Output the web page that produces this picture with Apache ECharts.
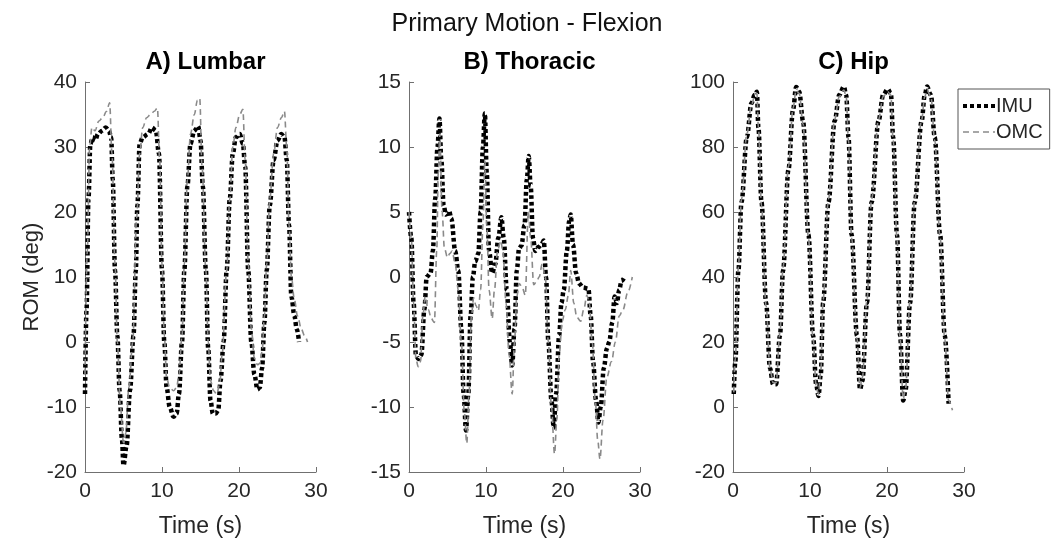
<!DOCTYPE html>
<html>
<head>
<meta charset="utf-8">
<script src="https://cdn.jsdelivr.net/npm/echarts@6/dist/echarts.min.js"></script>
<style>
html,body{margin:0;padding:0;background:#fff;}
#chart{width:1054px;height:543px;}
</style>
</head>
<body>
<div id="chart"></div>
<script>
// ---------- DATA (time in s, ROM in deg) ----------
const panelTitles = ['A) Lumbar', 'B) Thoracic', 'C) Hip'];
const mainTitle = 'Primary Motion - Flexion';
const seriesNames = ['IMU', 'OMC'];
const xTicks = {min: 0, max: 30, interval: 10};
const yRanges = [
  {min: -20, max: 40, interval: 10},
  {min: -15, max: 15, interval: 5},
  {min: -20, max: 100, interval: 20}
];

const lumbarIMU = [
  [0,-8],[0.2,5],[0.45,22],[0.7,30.5],[1.0,31.5],[1.3,31],[1.7,32],[2.2,32.5],[2.7,33],[3.1,32.5],[3.4,31.5],
  [3.6,25],[3.9,11],[4.2,1],[4.5,-7.5],[4.8,-15],[5.0,-19],[5.4,-16],[5.85,-7.4],[6.3,1],[6.6,11],[6.8,21],
  [7.1,30.5],[7.5,31.5],[8.2,32],[8.7,33],[9.2,32.5],[9.6,29],[10.0,11],[10.3,0],[10.6,-7],[11.0,-10],
  [11.5,-11.5],[11.9,-11],[12.2,-8],[12.6,0],[12.9,11],[13.3,24],[13.7,30.5],[14.2,32.5],[14.7,33.2],
  [15.0,31],[15.3,24],[15.7,11],[16.0,-1],[16.3,-9],[16.6,-11],[17.0,-11],[17.3,-10.5],[17.6,-6],
  [18.0,0],[18.4,11],[18.8,22],[19.2,29],[19.6,31.5],[20.1,32],[20.5,30.5],[20.8,27],[21.2,11],[21.6,0],
  [22.0,-5],[22.4,-7.3],[22.7,-7],[23.0,-4],[23.3,3],[23.6,11],[24.0,21],[24.5,28],[25.0,31],[25.5,32],
  [25.9,31.5],[26.2,28],[26.5,18],[26.8,7],[27.2,4],[27.5,2],[27.8,0]
];
const lumbarOMC = [
  [0,-5],[0.3,14],[0.6,30],[0.9,33],[1.3,32.5],[1.8,34],[2.3,34.5],[2.8,35.5],[3.2,36.8],[3.5,29],
  [3.9,12],[4.2,0],[4.6,-10],[5.0,-15.5],[5.3,-14],[5.7,-7],[6.2,0],[6.7,19],[7.1,29],[7.5,33],[8.0,34.5],
  [8.5,35],[9.0,35.5],[9.4,36],[9.7,28],[10.0,12],[10.3,1],[10.6,-5.5],[11.0,-7],[11.5,-7.5],[11.9,-7],
  [12.2,-5],[12.6,1],[12.9,12],[13.3,25],[13.7,32],[14.2,35],[14.6,37.2],[14.9,37.5],[15.2,27],[15.7,11],
  [16.0,0],[16.3,-6],[16.7,-7.5],[17.1,-8],[17.5,-6.5],[17.8,-2],[18.4,11],[18.8,22],[19.2,30],[19.6,33],
  [20.1,35],[20.5,35.8],[20.8,28],[21.2,12],[21.6,2],[22.0,-2.5],[22.4,-3.5],[22.7,-3.3],[23.0,-1.5],
  [23.3,4],[23.6,12],[24.0,22],[24.5,29],[25.0,33],[25.5,34.5],[25.9,35.5],[26.2,30],[26.5,18],[26.8,10],
  [27.2,6.5],[27.6,4],[28.1,2],[28.5,1],[28.9,0]
];
const thoracicIMU = [
  [0,5],[0.3,3],[0.6,-2],[0.9,-6],[1.2,-6.3],[1.6,-6],[2.0,-2.5],[2.3,0],[2.8,0.3],[3.1,2],[3.4,6],[3.7,10],
  [3.95,12.2],[4.2,9],[4.5,5.5],[4.8,4.8],[5.2,5.1],[5.5,4.5],[6.0,2],[6.4,0.5],[6.8,-4],[7.1,-9],[7.4,-11.8],
  [7.7,-9],[8.0,-3],[8.3,0],[8.6,1.2],[9.0,1.8],[9.3,5],[9.6,10],[9.85,12.6],[10.1,8],[10.4,2],[10.8,0.3],
  [11.2,1],[11.6,3],[12.0,4.6],[12.3,3],[12.7,-1],[13.1,-5],[13.4,-6.8],[13.7,-4],[14.0,0.5],[14.3,2.2],
  [14.6,2.4],[15.0,4],[15.3,7.5],[15.55,9.3],[15.8,7],[16.1,3],[16.4,2],[16.8,2.3],[17.2,2.5],[17.5,2.8],
  [17.8,0],[18.1,-5],[18.5,-9.5],[18.8,-11.6],[19.1,-9],[19.5,-4.5],[19.8,-2],[20.1,-1],[20.5,2],[20.8,4.3],
  [21.0,4.8],[21.3,2.5],[21.7,0.3],[22.1,-0.5],[22.6,-0.8],[23.3,-0.9],[23.6,-3],[23.9,-6.5],[24.3,-9.5],
  [24.6,-11.2],[24.9,-10],[25.3,-7],[25.7,-5.5],[26.0,-5],[26.4,-3.5],[26.7,-1.5],[27.0,-2],[27.3,-1],
  [27.6,-0.3],[27.9,-0.1]
];
const thoracicOMC = [
  [0,5],[0.3,3],[0.6,-2],[0.9,-6.3],[1.2,-6.9],[1.5,-6.5],[1.8,-3],[2.1,-1.5],[2.5,-2.5],[2.9,-3.2],
  [3.3,-3.5],[3.6,2],[3.8,8],[4.0,11],[4.3,5],[4.6,2.2],[5.0,1.5],[5.3,1.8],[5.6,2],[6.0,1],[6.4,-1],
  [6.8,-5],[7.2,-10.5],[7.5,-12.8],[7.8,-9],[8.1,-3],[8.4,-1.6],[8.7,-2.2],[9.0,-2.6],[9.3,-1],[9.6,4],
  [9.85,9],[10.1,4],[10.4,-1],[10.8,-3.2],[11.1,-1],[11.5,2],[11.9,2.8],[12.2,2],[12.6,-2],[13.0,-6],
  [13.4,-9],[13.7,-5],[14.0,-1.5],[14.3,-0.5],[14.7,-0.8],[15.1,-1.4],[15.5,5],[15.8,3],[16.2,-0.6],
  [16.6,-0.3],[16.9,0],[17.3,1],[17.7,0],[18.1,-5],[18.5,-10],[18.9,-13.6],[19.2,-11],[19.5,-6],[19.9,-3.4],
  [20.3,-2.5],[20.7,-1.4],[21.0,0.5],[21.4,-2],[21.8,-3.1],[22.3,-3.4],[22.7,-2.5],[23.1,-1.4],[23.4,-2],
  [23.8,-5],[24.2,-9.5],[24.5,-12.5],[24.8,-14],[25.2,-11],[25.7,-7.7],[26.3,-6.5],[26.8,-5],[27.3,-3],
  [27.8,-2.5],[28.4,-1.2],[29.0,0]
];
const hipIMU = [
  [0.1,4],[0.3,14],[0.7,42],[1.1,63],[1.8,83],[2.4,93.5],[2.8,96],[3.1,97],[3.3,86],[3.7,63],[4.3,32],
  [4.8,12],[5.2,7],[5.6,7],[6.1,22],[6.5,42],[7.2,73],[7.8,91.5],[8.2,98.5],[8.6,97],[9.1,88],[9.8,53],
  [10.4,22],[10.8,7],[11.1,3.4],[11.4,10],[11.7,32],[12.4,63],[13.2,88],[13.8,96],[14.4,98.6],[14.7,96],
  [15.0,83],[15.4,53],[16.1,22],[16.5,5.4],[16.8,8],[17.4,32],[18.0,63],[18.9,88],[19.5,96],[20.1,97.8],
  [20.5,96.5],[20.8,83],[21.3,53],[21.7,22],[22.1,2],[22.4,5],[23.0,32],[23.6,63],[24.5,88],[24.9,96],
  [25.2,98.6],[25.7,96],[26.2,83],[26.9,53],[27.5,22],[28.0,1]
];
const hipOMC = [
  [0.1,4.5],[0.3,15],[0.7,43],[1.1,64],[1.8,84],[2.4,93],[2.8,95.5],[3.1,96.5],[3.3,86],[3.7,62],[4.3,31],
  [4.8,12],[5.2,7.5],[5.6,7.5],[6.1,23],[6.5,43],[7.2,74],[7.8,92],[8.2,97.5],[8.6,96.5],[9.1,87],[9.8,52],
  [10.4,21],[10.8,6.5],[11.1,4],[11.4,11],[11.7,33],[12.4,64],[13.2,88.5],[13.8,95.5],[14.4,97.5],[14.7,95.5],
  [15.0,82],[15.4,52],[16.1,21],[16.5,6],[16.8,9],[17.4,33],[18.0,64],[18.9,88.5],[19.5,95.5],[20.1,97],
  [20.5,96],[20.8,82],[21.3,52],[21.7,21],[22.1,2.5],[22.4,5.5],[23.0,33],[23.6,64],[24.5,88.5],[24.9,95.5],
  [25.2,97.5],[25.7,95.5],[26.2,82],[26.9,52],[27.5,21],[28.0,2],[28.5,-1]
];
const panelData = [[lumbarIMU, lumbarOMC], [thoracicIMU, thoracicOMC], [hipIMU, hipOMC]];

// ---------- CHART ----------
const FONT = '"Liberation Sans", Arial, Helvetica, sans-serif';
const gridLefts = [85, 409, 733];
const gridW = 231, gridTop = 82, gridH = 393;
const axisColor = '#707070';
const labelColor = '#262626';
const imuLine = {color: '#000', width: 4.5, type: [3.8, 2.8], cap: 'butt'};
const omcLine = {color: '#8a8a8a', width: 1.6, type: [6, 4], cap: 'butt'};

const grids = [], xAxes = [], yAxes = [], series = [], titles = [];
titles.push({
  text: mainTitle, left: 'center', top: 7,
  textStyle: {fontFamily: FONT, fontSize: 25, fontWeight: 'normal', color: '#111'}
});
for (let i = 0; i < 3; i++) {
  grids.push({left: gridLefts[i], top: gridTop, width: gridW, height: gridH, containLabel: false});
  titles.push({
    text: panelTitles[i], left: gridLefts[i] + gridW / 2, top: 45, textAlign: 'center',
    textStyle: {fontFamily: FONT, fontSize: 24, fontWeight: 'bold', color: '#000'}
  });
  xAxes.push({
    type: 'value', gridIndex: i, min: xTicks.min, max: xTicks.max, interval: xTicks.interval,
    name: 'Time (s)', nameLocation: 'middle', nameGap: 43,
    nameTextStyle: {fontFamily: FONT, fontSize: 23, color: labelColor},
    axisLine: {show: true, onZero: false, lineStyle: {color: axisColor, width: 1}},
    axisTick: {show: true, inside: true, length: 5, lineStyle: {color: axisColor}},
    axisLabel: {fontFamily: FONT, fontSize: 21, color: labelColor, margin: 9},
    splitLine: {show: false}
  });
  yAxes.push({
    type: 'value', gridIndex: i, min: yRanges[i].min, max: yRanges[i].max, interval: yRanges[i].interval,
    name: i === 0 ? 'ROM (deg)' : '', nameLocation: 'middle', nameGap: 42,
    nameTextStyle: {fontFamily: FONT, fontSize: 22, color: labelColor},
    axisLine: {show: true, onZero: false, lineStyle: {color: axisColor, width: 1}},
    axisTick: {show: true, inside: true, length: 5, lineStyle: {color: axisColor}},
    axisLabel: {fontFamily: FONT, fontSize: 21, color: labelColor, margin: 8},
    splitLine: {show: false}
  });
  series.push({
    name: seriesNames[0], type: 'line', xAxisIndex: i, yAxisIndex: i,
    data: panelData[i][0], symbol: 'none', smooth: 0.35, smoothMonotone: 'x',
    lineStyle: imuLine, itemStyle: {color: '#000'}, z: 2, animation: false
  });
  series.push({
    name: seriesNames[1], type: 'line', xAxisIndex: i, yAxisIndex: i,
    data: panelData[i][1], symbol: 'none', smooth: 0.35, smoothMonotone: 'x',
    lineStyle: omcLine, itemStyle: {color: '#8a8a8a'}, z: 3, animation: false
  });
}

const chart = echarts.init(document.getElementById('chart'), null, {renderer: 'canvas'});
chart.setOption({
  backgroundColor: '#fff',
  animation: false,
  title: titles,
  grid: grids,
  xAxis: xAxes,
  yAxis: yAxes,
  legend: {
    data: [
      {name: seriesNames[0], lineStyle: {color: '#000', width: 4, type: [4, 3]}},
      {name: seriesNames[1], lineStyle: {color: '#8a8a8a', width: 1.6, type: [6, 4]}}
    ],
    orient: 'vertical', left: 958, top: 89,
    itemWidth: 32, itemHeight: 14, itemGap: 6,
    padding: [7, 7, 7, 3],
    borderColor: '#555', borderWidth: 1, backgroundColor: '#fff',
    textStyle: {fontFamily: FONT, fontSize: 20, color: labelColor, padding: [0, 0, 0, -4]},
    itemStyle: {opacity: 0},
    selectedMode: false
  },
  series: series
});
</script>
</body>
</html>
